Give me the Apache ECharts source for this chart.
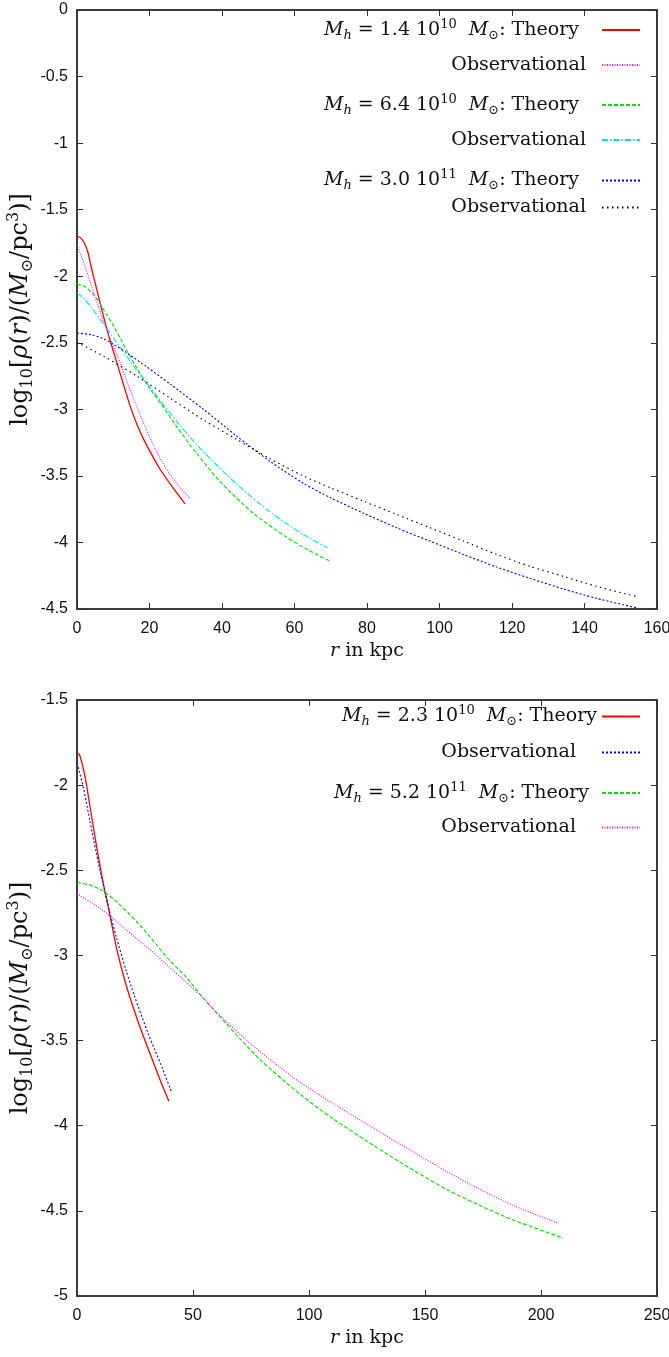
<!DOCTYPE html>
<html>
<head>
<meta charset="utf-8">
<script src="https://cdn.jsdelivr.net/npm/echarts@6/dist/echarts.min.js"></script>
<style>
html,body{margin:0;padding:0;background:#fff;}
#c{width:669px;height:1357px;}
</style>
</head>
<body>
<div id="c"></div>
<script>
// ---------- Top panel data ----------
const topXTicks = {min: 0, max: 160, interval: 20};
const topYTicks = {min: -4.5, max: 0, interval: 0.5};

const topR_T1 = [0, 1, 2, 3, 4, 5, 6, 7.3, 9.1, 11.9, 14.6, 16.5, 18.3, 20.5, 22.9, 26.5, 29.8];
const topV_T1 = [-1.70, -1.712, -1.75, -1.82, -1.94, -2.05, -2.16, -2.30, -2.48, -2.73, -2.97, -3.11, -3.22, -3.335, -3.45, -3.59, -3.71];

const topR_O1 = [0, 2, 3.6, 5.5, 7.3, 9.1, 11.9, 14, 16.5, 18.8, 21.1, 23.4, 25.7, 28.5, 31.2];
const topV_O1 = [-1.764, -1.91, -2.04, -2.20, -2.34, -2.47, -2.65, -2.81, -2.98, -3.13, -3.27, -3.39, -3.49, -3.59, -3.67];

const topR_T2 = [0, 2, 4, 6, 8, 10, 12, 14, 16.5, 20, 23, 27.5, 33, 39.4, 48.6, 57.8, 64, 69.8];
const topV_T2 = [-2.06, -2.075, -2.12, -2.19, -2.28, -2.37, -2.47, -2.57, -2.69, -2.84, -2.95, -3.13, -3.33, -3.54, -3.78, -3.96, -4.06, -4.14];

const topR_O2 = [0, 2, 4, 6, 8.2, 11, 13.7, 16, 18.3, 22, 28.4, 34.9, 44, 53.2, 62.4, 69.1];
const topV_O2 = [-2.127, -2.17, -2.235, -2.31, -2.39, -2.50, -2.60, -2.69, -2.77, -2.90, -3.12, -3.32, -3.56, -3.77, -3.94, -4.04];

const topR_T3 = [0, 4, 7.3, 10, 13.7, 19.2, 25.7, 34.9, 44, 53.2, 62.4, 70, 79, 88.2, 97.4, 106.6, 115.8, 125, 134.2, 143.3, 154.2];
const topV_T3 = [-2.427, -2.44, -2.47, -2.51, -2.575, -2.68, -2.81, -3.00, -3.20, -3.39, -3.555, -3.665, -3.78, -3.89, -3.99, -4.09, -4.185, -4.27, -4.35, -4.42, -4.49];

const topR_O3 = [0, 7.3, 16.5, 25.7, 34.9, 44, 53.2, 62.4, 70, 79, 88.2, 97.4, 106.6, 115.8, 125, 134.2, 143.3, 154.2];
const topV_O3 = [-2.497, -2.60, -2.75, -2.916, -3.08, -3.225, -3.37, -3.50, -3.59, -3.69, -3.79, -3.89, -3.99, -4.09, -4.18, -4.255, -4.33, -4.405];

// ---------- Bottom panel data ----------
const botXTicks = {min: 0, max: 250, interval: 50};
const botYTicks = {min: -5, max: -1.5, interval: 0.5};

const botR_T1 = [0, 1, 2.5, 4, 5.4, 8.2, 11.1, 14, 16.9, 19, 21.2, 23.5, 25.6, 28.2, 31.3, 35.5, 39.6];
const botV_T1 = [-1.81, -1.82, -1.89, -1.99, -2.11, -2.34, -2.56, -2.75, -2.95, -3.065, -3.175, -3.275, -3.36, -3.46, -3.57, -3.72, -3.857];

const botR_O1 = [0, 1, 2.5, 4, 5.4, 8.2, 11.1, 14, 16.9, 21.2, 24.8, 30.7, 33.4, 37, 40.7];
const botV_O1 = [-1.87, -1.92, -2.00, -2.10, -2.20, -2.39, -2.57, -2.74, -2.89, -3.09, -3.24, -3.46, -3.55, -3.67, -3.80];

const botR_T2 = [0, 5, 11.1, 18.3, 25.6, 32, 40, 47.2, 54.4, 58.6, 70.3, 78.8, 96.1, 110.5, 124.9, 136.4, 145.1, 159.5, 173.9, 188.3, 209.6];
const botV_T2 = [-2.572, -2.585, -2.62, -2.70, -2.80, -2.90, -3.03, -3.13, -3.25, -3.314, -3.49, -3.61, -3.815, -3.96, -4.09, -4.19, -4.262, -4.375, -4.47, -4.555, -4.66];

const botR_O2 = [0, 11.1, 25.6, 31.3, 40, 54.4, 58.6, 72.4, 83.1, 96.1, 110.5, 124.9, 136.4, 145.1, 159.5, 173.9, 188.3, 207];
const botV_O2 = [-2.637, -2.735, -2.90, -2.965, -3.07, -3.25, -3.314, -3.49, -3.61, -3.745, -3.87, -3.99, -4.085, -4.155, -4.27, -4.375, -4.47, -4.57];

// ---------- Legend texts ----------
const topLegend = [
  ['T1', 'theory', '1.4', '10'],
  ['O1', 'obs'],
  ['T2', 'theory', '6.4', '10'],
  ['O2', 'obs'],
  ['T3', 'theory', '3.0', '11'],
  ['O3', 'obs']
];
const botLegend = [
  ['T4', 'theory', '2.3', '10'],
  ['O4', 'obs'],
  ['T5', 'theory', '5.2', '11'],
  ['O5', 'obs']
];

function pairs(r, v) { return r.map((x, i) => [x, v[i]]); }

function legendText(row) {
  if (row[1] === 'theory') {
    return '{i|M}{subi|h}{n| = ' + row[2] + ' 10}{sup|' + row[3] + '}{n|  }{i|M}{sub|⊙}{n|: Theory}';
  }
  return '{n|Observational}';
}

const SERIF = "'DejaVu Serif', 'Liberation Serif', serif";
const SANS = "'Liberation Sans Narrow', 'Arial Narrow', 'Liberation Sans', sans-serif";

const rich = {
  n: {fontFamily: SERIF, fontSize: 19, lineHeight: 24, color: '#111'},
  i: {fontFamily: SERIF, fontStyle: 'italic', fontSize: 19, lineHeight: 24, color: '#111'},
  sup: {fontFamily: SERIF, fontSize: 13, lineHeight: 14, verticalAlign: 'top', color: '#111'},
  sub: {fontFamily: SERIF, fontSize: 13, lineHeight: 12, verticalAlign: 'bottom', color: '#111'},
  subi: {fontFamily: SERIF, fontStyle: 'italic', fontSize: 13, lineHeight: 12, verticalAlign: 'bottom', color: '#111'}
};
const richY = {
  n: {fontFamily: SERIF, fontSize: 24, lineHeight: 30, color: '#111'},
  i: {fontFamily: SERIF, fontStyle: 'italic', fontSize: 24, lineHeight: 30, color: '#111'},
  sup: {fontFamily: SERIF, fontSize: 16, lineHeight: 18, verticalAlign: 'top', color: '#111'},
  sub: {fontFamily: SERIF, fontSize: 16, lineHeight: 15, verticalAlign: 'bottom', color: '#111'}
};

const names = {};
[...topLegend, ...botLegend].forEach(r => { names[r[0]] = legendText(r); });

function mkSeries(id, r, v, color, dash, width, xi, yi) {
  return {
    name: id, type: 'line', xAxisIndex: xi, yAxisIndex: yi,
    data: pairs(r, v), smooth: 0.25,
    symbol: 'none', showSymbol: false, animation: false, silent: true,
    lineStyle: {color: color, width: width, type: dash},
    itemStyle: {color: color}
  };
}

const series = [
  mkSeries('T1', topR_T1, topV_T1, '#ff0000', 'solid', 1.3, 0, 0),
  mkSeries('O1', topR_O1, topV_O1, '#ff00ff', [1, 1.5], 1.1, 0, 0),
  mkSeries('T2', topR_T2, topV_T2, '#00dd00', [4, 2], 1.1, 0, 0),
  mkSeries('O2', topR_O2, topV_O2, '#00e0ea', [6, 2, 1.5, 2], 1.1, 0, 0),
  mkSeries('T3', topR_T3, topV_T3, '#0000ff', [2, 2], 1.1, 0, 0),
  mkSeries('O3', topR_O3, topV_O3, '#000000', [1.5, 3.5], 1.1, 0, 0),
  mkSeries('T4', botR_T1, botV_T1, '#ff0000', 'solid', 1.3, 2, 2),
  mkSeries('O4', botR_O1, botV_O1, '#0000ff', [2, 2], 1.1, 2, 2),
  mkSeries('T5', botR_T2, botV_T2, '#00dd00', [4, 2], 1.1, 2, 2),
  mkSeries('O5', botR_O2, botV_O2, '#ff00ff', [1, 1.5], 1.1, 2, 2)
];

// legend layout (style only)
const topLegendCY = [30, 67.5, 105, 142.5, 180.5, 210];
const topLegendPad = [18, 11, 18, 11, 18, 11];
const botLegendCY = [716.5, 755, 793, 830];
const botLegendPad = [0, 21, 8, 21];

const legends = [];
function addLegends(rows, cys, pads) {
  rows.forEach((row, k) => {
    legends.push({
      data: [row[0]], orient: 'vertical', align: 'right', right: 28,
      top: cys[k] - 12, padding: 0, itemWidth: 38, itemHeight: 12,
      selectedMode: false,
      itemStyle: {color: 'rgba(0,0,0,0)', borderColor: 'rgba(0,0,0,0)', borderWidth: 0},
      formatter: nm => names[nm],
      textStyle: {rich: rich, padding: [0, pads[k], 0, 0]}
    });
  });
}
addLegends(topLegend, topLegendCY, topLegendPad);
addLegends(botLegend, botLegendCY, botLegendPad);

const frameLine = {show: true, onZero: false, lineStyle: {color: '#3c3c3c', width: 2}};
const tickStyle = {show: true, inside: true, length: 6, lineStyle: {color: '#333', width: 1}};
const tickLabel = {fontFamily: SANS, fontSize: 16, color: '#111'};

const xName = '{i|r}{n| in kpc}';
const yName = '{n|log}{sub|10}{n|[}{i|ρ}{n|(}{i|r}{n|)/(}{i|M}{sub|⊙}{n|/pc}{sup|3}{n|)]}';

function mainX(ticks, gi, gap) {
  return {type: 'value', gridIndex: gi, position: 'bottom', min: ticks.min, max: ticks.max, interval: ticks.interval,
    axisLine: frameLine, axisTick: tickStyle, splitLine: {show: false},
    axisLabel: Object.assign({margin: 12, showMinLabel: true, showMaxLabel: true}, tickLabel),
    name: xName, nameLocation: 'middle', nameGap: gap, nameMoveOverlap: false, nameTextStyle: {rich: rich}};
}
function mirrorX(ticks, gi) {
  return {type: 'value', gridIndex: gi, position: 'top', min: ticks.min, max: ticks.max, interval: ticks.interval,
    axisLine: frameLine, axisTick: tickStyle, splitLine: {show: false}, axisLabel: {show: false}};
}
function mainY(ticks, gi) {
  return {type: 'value', gridIndex: gi, position: 'left', min: ticks.min, max: ticks.max, interval: ticks.interval,
    axisLine: frameLine, axisTick: tickStyle, splitLine: {show: false},
    axisLabel: Object.assign({margin: 9, showMinLabel: true, showMaxLabel: true}, tickLabel),
    name: yName, nameLocation: 'middle', nameRotate: 90, nameGap: 41, nameMoveOverlap: false, nameTextStyle: {rich: richY}};
}
function mirrorY(ticks, gi) {
  return {type: 'value', gridIndex: gi, position: 'right', min: ticks.min, max: ticks.max, interval: ticks.interval,
    axisLine: frameLine, axisTick: tickStyle, splitLine: {show: false}, axisLabel: {show: false}};
}

const chart = echarts.init(document.getElementById('c'), null, {renderer: 'canvas'});
chart.setOption({
  backgroundColor: '#ffffff',
  animation: false,
  grid: [
    {left: 77, top: 10, width: 580, height: 599, containLabel: false, outerBoundsMode: 'none'},
    {left: 77, top: 700, width: 580, height: 596, containLabel: false, outerBoundsMode: 'none'}
  ],
  xAxis: [mainX(topXTicks, 0, 30), mirrorX(topXTicks, 0), mainX(botXTicks, 1, 30), mirrorX(botXTicks, 1)],
  yAxis: [mainY(topYTicks, 0), mirrorY(topYTicks, 0), mainY(botYTicks, 1), mirrorY(botYTicks, 1)],
  legend: legends,
  series: series
});
</script>
</body>
</html>
